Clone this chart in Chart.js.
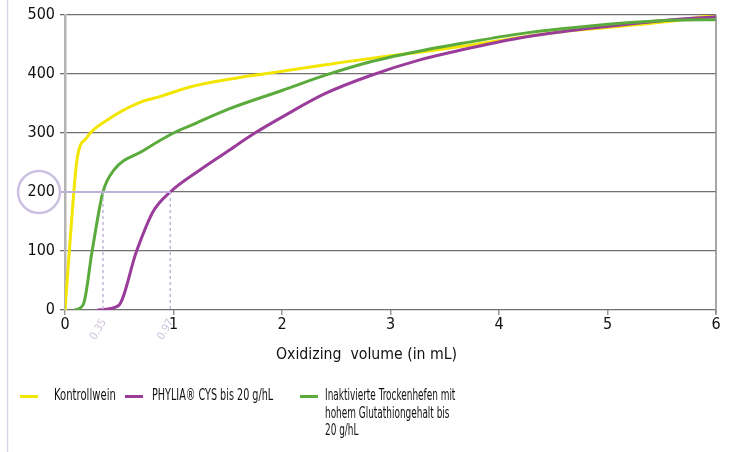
<!DOCTYPE html>
<html>
<head>
<meta charset="utf-8">
<script src="https://cdn.jsdelivr.net/npm/chart.js@4.4.1/dist/chart.umd.min.js"></script>
<style>
  html, body { margin: 0; padding: 0; background: #ffffff; }
  #wrap { position: relative; width: 733px; height: 452px; overflow: hidden; }
  canvas { position: absolute; left: 0; top: 0; }
  .txt { position: absolute; font-family: "DejaVu Sans Condensed", "Liberation Sans Narrow", sans-serif; color: #111; font-size: 16px; line-height: 17.5px; white-space: nowrap; transform-origin: 0 0; }
  .narrow { transform: scaleX(0.7); }
  .swatch { position: absolute; height: 3px; width: 18px; }
</style>
</head>
<body>
<div id="wrap">
  <canvas id="c" width="733" height="452"></canvas>
  <div class="txt" style="left:276px; top:345px; transform: scaleX(0.98);">Oxidizing&nbsp; volume (in mL)</div>
  <div class="swatch" style="left:20px; top:395px; background:#f2e600;"></div>
  <div class="txt narrow" style="left:54px; top:386px;">Kontrollwein</div>
  <div class="swatch" style="left:125px; top:395px; background:#9a3c9a;"></div>
  <div class="txt narrow" style="left:152px; top:386px; transform: scaleX(0.67);">PHYLIA® CYS bis 20 g/hL</div>
  <div class="swatch" style="left:300px; top:395px; background:#5aaa3c;"></div>
  <div class="txt" style="left:325px; top:386px; transform: scaleX(0.62);">Inaktivierte Trockenhefen mit<br>hohem Glutathiongehalt bis<br>20 g/hL</div>
</div>
<script>
// Oxidizing volume (mL) vs. remaining value, one pair of arrays per wine
const xKontroll = [0, 0.05, 0.11, 0.2, 0.39, 0.69, 0.88, 1.15, 1.61, 1.83, 2.2, 2.6, 3.0, 3.27, 3.66, 4.19, 4.6, 5.12, 5.6, 6];
const yKontroll = [0, 125, 254, 292, 322, 352, 362, 378, 394, 400, 410, 421, 431, 437, 447, 462, 472, 481, 490, 500];

const xPhylia = [0.3, 0.49, 0.66, 0.81, 0.97, 1.24, 1.49, 1.75, 2.0, 2.4, 2.81, 3.27, 3.66, 4.19, 4.6, 5.12, 5.6, 6];
const yPhylia = [0, 7, 100, 166, 200, 237, 268, 300, 327, 367, 397, 424, 441, 461, 472, 483, 492, 497];

const xHefen = [0.09, 0.17, 0.25, 0.35, 0.45, 0.72, 1.0, 1.2, 1.5, 2.0, 2.4, 2.8, 3.35, 3.66, 4.19, 4.6, 5.12, 5.6, 6];
const yHefen = [0, 10, 100, 200, 237, 270, 300, 316, 340, 372, 398, 420, 442, 452, 468, 477, 486, 491, 492];

// Reference level and the volumes at which two wines reach it
const refLevel = 200;
const refVolumes = [0.35, 0.97];
const refLabels = ["0.35", "0.97"];

const xTicks = [0, 1, 2, 3, 4, 5, 6];
const yTicks = [0, 100, 200, 300, 400, 500];

const pts = (xs, ys) => xs.map((x, i) => ({ x: x, y: ys[i] }));

const lavender = "#bfb0d6";
const tickFont = { family: "'DejaVu Sans Condensed', 'Liberation Sans Narrow', sans-serif", size: 16 };

const overlay = {
  id: "overlay",
  beforeDraw(chart) {
    const ctx = chart.ctx;
    ctx.save();
    ctx.strokeStyle = "#ddd3ea";
    ctx.lineWidth = 1.5;
    ctx.beginPath();
    ctx.moveTo(7.5, 0);
    ctx.lineTo(7.5, chart.height);
    ctx.stroke();
    ctx.restore();
  },
  afterDatasetsDraw(chart) {
    const ctx = chart.ctx;
    const xs = chart.scales.x, ys = chart.scales.y;
    const top = chart.chartArea.top, bottom = chart.chartArea.bottom;
    const yRef = ys.getPixelForValue(refLevel);
    ctx.save();
    // right frame line
    ctx.strokeStyle = "#8a8a8a";
    ctx.lineWidth = 1.5;
    ctx.beginPath();
    ctx.moveTo(xs.getPixelForValue(6), top);
    ctx.lineTo(xs.getPixelForValue(6), bottom + 4);
    ctx.stroke();
    // highlighted reference level
    ctx.strokeStyle = lavender;
    ctx.lineWidth = 2;
    ctx.beginPath();
    ctx.moveTo(60, yRef);
    ctx.lineTo(xs.getPixelForValue(refVolumes[1]), yRef);
    ctx.stroke();
    // circle round the reference tick
    ctx.strokeStyle = "#cbc0df";
    ctx.lineWidth = 2.5;
    ctx.beginPath();
    ctx.arc(39, yRef, 21, 0, Math.PI * 2);
    ctx.stroke();
    // dotted drop lines and their values
    ctx.setLineDash([3, 3]);
    ctx.strokeStyle = "#c2b6d8";
    ctx.lineWidth = 1.5;
    refVolumes.forEach((v) => {
      const px = xs.getPixelForValue(v);
      ctx.beginPath();
      ctx.moveTo(px, yRef);
      ctx.lineTo(px, bottom);
      ctx.stroke();
    });
    ctx.setLineDash([]);
    ctx.fillStyle = "#cdc2e0";
    ctx.font = "11px 'DejaVu Sans Condensed', sans-serif";
    ctx.textAlign = "right";
    ctx.textBaseline = "middle";
    refVolumes.forEach((v, i) => {
      const px = xs.getPixelForValue(v);
      ctx.save();
      ctx.translate(px + 1, bottom + 10);
      ctx.rotate(-Math.PI / 3);
      ctx.fillText(refLabels[i], 0, 0);
      ctx.restore();
    });
    ctx.restore();
  }
};

const lineDs = (label, data, color) => ({
  label: label,
  data: data,
  borderColor: color,
  backgroundColor: color,
  borderWidth: 3,
  pointRadius: 0,
  fill: false,
  cubicInterpolationMode: "monotone",
  showLine: true
});

new Chart(document.getElementById("c"), {
  type: "scatter",
  data: {
    datasets: [
      lineDs("Inaktivierte Trockenhefen mit hohem Glutathiongehalt bis 20 g/hL", pts(xHefen, yHefen), "#5aaa3c"),
      lineDs("PHYLIA® CYS bis 20 g/hL", pts(xPhylia, yPhylia), "#9a3c9a"),
      lineDs("Kontrollwein", pts(xKontroll, yKontroll), "#f2e600")
    ]
  },
  options: {
    responsive: false,
    animation: false,
    layout: { padding: { left: 0, right: 17, top: 15, bottom: 0 } },
    plugins: { legend: { display: false }, tooltip: { enabled: false } },
    scales: {
      x: {
        type: "linear",
        min: 0, max: 6,
        afterBuildTicks: (s) => { s.ticks = xTicks.map(v => ({ value: v })); },
        afterFit: (s) => { s.height = 142; },
        grid: { drawOnChartArea: false, drawTicks: true, tickLength: 5, color: "#9a9a9a", lineWidth: 1.5 },
        border: { display: false },
        ticks: { color: "#111", font: tickFont, padding: 0, maxRotation: 0 }
      },
      y: {
        min: 0, max: 500,
        afterBuildTicks: (s) => { s.ticks = yTicks.map(v => ({ value: v })); },
        afterFit: (s) => { s.width = 65; },
        grid: { color: "#707070", lineWidth: 1.3, tickLength: 5, drawTicks: true },
        border: { display: true, color: "#b4b4b4", width: 2.5 },
        ticks: { color: "#111", font: tickFont, padding: 5 }
      }
    }
  },
  plugins: [overlay]
});
</script>
</body>
</html>
